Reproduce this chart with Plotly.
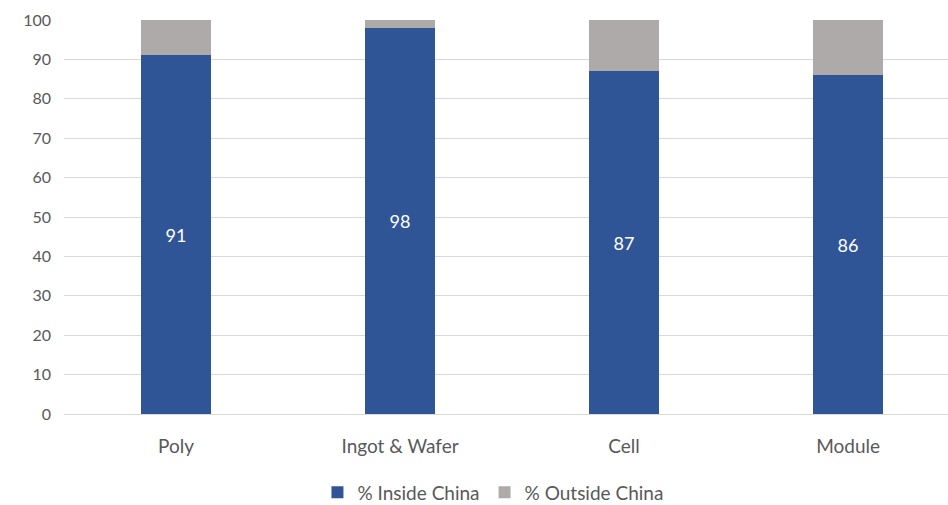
import plotly.graph_objects as go

categories = ["Poly", "Ingot & Wafer", "Cell", "Module"]
inside_china = [91, 98, 87, 86]
outside_china = [9, 2, 13, 14]
y_ticks = [0, 10, 20, 30, 40, 50, 60, 70, 80, 90, 100]

FONT = "Lato, 'Open Sans', sans-serif"
x_idx = list(range(len(categories)))

fig = go.Figure()
fig.add_trace(go.Bar(
    x=x_idx, y=inside_china, name="% Inside China",
    marker=dict(color="#2F5597", line=dict(width=0)),
    width=0.3125,
    text=[str(v) for v in inside_china], textposition="inside",
    insidetextanchor="middle",
    textfont=dict(color="white", size=18, family=FONT),
))
fig.add_trace(go.Bar(
    x=x_idx, y=outside_china, name="% Outside China",
    marker=dict(color="#AEAAAA", line=dict(width=0)),
    width=0.3125, hoverinfo="skip",
))

fig.update_layout(
    barmode="stack",
    width=948, height=505,
    margin=dict(l=64, r=0, t=20, b=91),
    plot_bgcolor="white", paper_bgcolor="white",
    font=dict(family=FONT, color="#595959", size=16),
    showlegend=True,
    legend=dict(orientation="h", xref="container", yref="container",
                x=0.52, xanchor="center", y=0.025, yanchor="middle",
                font=dict(size=19, color="#595959"), traceorder="normal",
                itemwidth=30),
    xaxis=dict(range=[-0.5, 3.446], tickmode="array", tickvals=x_idx,
               ticktext=categories, showgrid=False, zeroline=False,
               showline=False, ticks="", tickfont=dict(size=19),
               ticklabelstandoff=19),
    yaxis=dict(range=[0, 100], tickmode="array", tickvals=y_ticks,
               showgrid=True, gridcolor="#D9D9D9", gridwidth=1,
               zeroline=True, zerolinecolor="#D9D9D9", zerolinewidth=1,
               ticks="", tickfont=dict(size=16), ticklabelstandoff=12),
    bargap=0,
)

fig.write_html("out.html")
